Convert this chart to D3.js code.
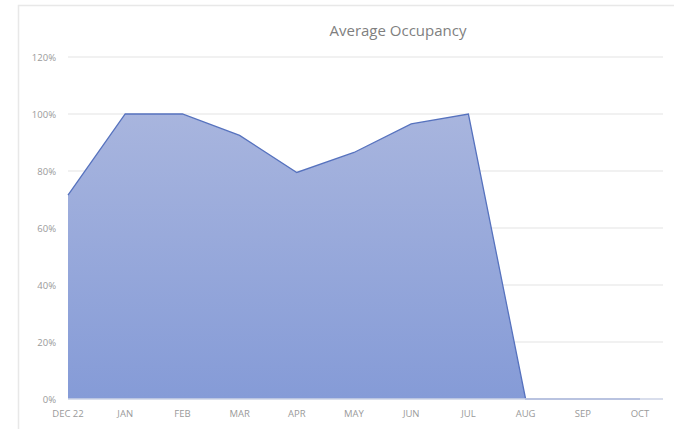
<!DOCTYPE html>
<html>
<head>
<meta charset="utf-8">
<script src="https://cdn.jsdelivr.net/npm/d3@7"></script>
<style>
  body { margin: 0; background: #fff; }
  text { font-family: "Open Sans", "DejaVu Sans", sans-serif; }
</style>
</head>
<body>
<svg width="674" height="429"></svg>
<script>
(function() {

  var months = ['DEC 22', 'JAN', 'FEB', 'MAR', 'APR', 'MAY', 'JUN', 'JUL', 'AUG', 'SEP', 'OCT'];
  var occupancy = [0.715, 1.00, 1.00, 0.925, 0.795, 0.865, 0.965, 1.00, 0, 0, 0];
  var yTicks = [0, 0.2, 0.4, 0.6, 0.8, 1.0, 1.2];

  var svg = d3.select('svg');

  // chart frame (cut off at right and bottom like the screenshot)
  svg.append('path')
    .attr('d', 'M18.5,429 L18.5,5.5 L674,5.5')
    .attr('fill', 'none')
    .attr('stroke', '#e8e8e8')
    .attr('stroke-width', 1.5);

  var x = d3.scalePoint().domain(months).range([68, 640]);
  var y = d3.scaleLinear().domain([0, 1.2]).range([399, 57]);
  var gridRight = 663;

  // gridlines
  svg.selectAll('.grid').data(yTicks.slice(1))
    .enter().append('line')
    .attr('class', 'grid')
    .attr('x1', 68).attr('x2', gridRight)
    .attr('y1', function(d) { return y(d); })
    .attr('y2', function(d) { return y(d); })
    .attr('stroke', '#e4e4e4')
    .attr('stroke-width', 1.2);

  // fill gradient
  var grad = svg.append('defs').append('linearGradient')
    .attr('id', 'fillGrad')
    .attr('x1', 0).attr('y1', 0).attr('x2', 0).attr('y2', 1);
  grad.append('stop').attr('offset', '0%').attr('stop-color', '#a8b5de');
  grad.append('stop').attr('offset', '100%').attr('stop-color', '#859bd7');

  var data = months.map(function(m, i) { return {m: m, v: occupancy[i]}; });

  var area = d3.area()
    .x(function(d) { return x(d.m); })
    .y0(y(0))
    .y1(function(d) { return y(d.v); });

  var line = d3.line()
    .x(function(d) { return x(d.m); })
    .y(function(d) { return y(d.v); });

  svg.append('path')
    .datum(data)
    .attr('d', area)
    .attr('fill', 'url(#fillGrad)');

  svg.append('path')
    .datum(data)
    .attr('d', line)
    .attr('fill', 'none')
    .attr('stroke', '#5672be')
    .attr('stroke-width', 1.3);

  // bottom axis line
  svg.append('line')
    .attr('x1', 68).attr('x2', gridRight)
    .attr('y1', y(0)).attr('y2', y(0))
    .attr('stroke', '#cdd3e6')
    .attr('stroke-width', 1.5);

  // y labels
  svg.selectAll('.ylab').data(yTicks)
    .enter().append('text')
    .attr('class', 'ylab')
    .attr('x', 56)
    .attr('y', function(d) { return y(d) + 3.5; })
    .attr('text-anchor', 'end')
    .attr('font-size', 9.5)
    .attr('fill', '#9a9a9a')
    .text(function(d) { return d3.format('.0%')(d); });

  // x labels
  svg.selectAll('.xlab').data(months)
    .enter().append('text')
    .attr('class', 'xlab')
    .attr('x', function(d) { return x(d); })
    .attr('y', 417)
    .attr('text-anchor', 'middle')
    .attr('font-size', 9.5)
    .attr('fill', '#9a9a9a')
    .text(function(d) { return d; });

  // title
  svg.append('text')
    .attr('x', 398)
    .attr('y', 36)
    .attr('text-anchor', 'middle')
    .attr('font-size', 15)
    .attr('fill', '#7f7f7f')
    .text('Average Occupancy');

})();
</script>
</body>
</html>
